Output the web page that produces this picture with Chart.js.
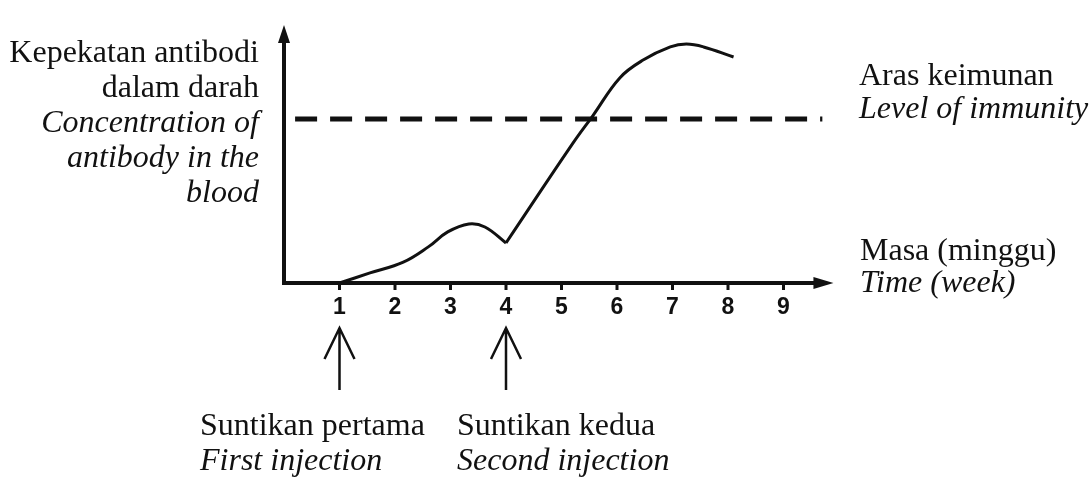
<!DOCTYPE html>
<html>
<head>
<meta charset="utf-8">
<script src="https://cdn.jsdelivr.net/npm/chart.js@4.4.1/dist/chart.umd.min.js"></script>
<style>
  body { margin: 0; background: #fff; }
  #wrap { position: relative; width: 1091px; height: 479px; }
  .lbl { position: absolute; font-family: "Liberation Serif", "Times New Roman", serif; font-size: 32px; color: #111; white-space: nowrap; }
  .lbl i { font-style: italic; }
</style>
</head>
<body>
<div id="wrap">
  <canvas id="antibodyChart" width="1091" height="479"></canvas>
  <div class="lbl" style="right:832px; top:34px; line-height:35px; text-align:right;">Kepekatan antibodi<br>dalam darah<br><i>Concentration of<br>antibody in the<br>blood</i></div>
  <div class="lbl" style="left:859px; top:58px; line-height:33px;">Aras keimunan<br><i>Level of immunity</i></div>
  <div class="lbl" style="left:860px; top:233px; line-height:32px;">Masa (minggu)<br><i>Time (week)</i></div>
  <div class="lbl" style="left:200px; top:407px; line-height:35px;">Suntikan pertama<br><i>First injection</i></div>
  <div class="lbl" style="left:457px; top:407px; line-height:35px;">Suntikan kedua<br><i>Second injection</i></div>
</div>
<script>
// minggu (week) vs kepekatan antibodi
const weeksFirst = [1.0, 1.55, 2.15, 2.6, 2.95, 3.33, 3.62, 4.0];
const concFirst = [0, 3.9, 8.1, 14, 19.8, 22.9, 21.7, 15.5];
const weeksSecond = [4.0, 5.2, 5.57, 6.05, 6.47, 6.96, 7.25, 7.56, 8.1];
const concSecond = [15.5, 54, 65, 79.5, 86.4, 91.5, 92.6, 91.5, 87.6];

const immunityLevel = 63.6;
const immunityFrom = 0.2;
const immunityTo = 9.7;

const xTicks = [1, 2, 3, 4, 5, 6, 7, 8, 9];
const injectionWeeks = [1, 4];

const toPoints = (xs, ys) => xs.map((x, i) => ({ x: x, y: ys[i] }));

// paksi, anak panah dan label tick
const axesPlugin = {
  id: 'axesPlugin',
  afterDatasetsDraw(chart) {
    const ctx = chart.ctx;
    const xs = chart.scales.x;
    const ys = chart.scales.y;
    const x0 = xs.getPixelForValue(0);
    const y0 = ys.getPixelForValue(0);
    const yTop = ys.getPixelForValue(100);
    const xEnd = xs.getPixelForValue(9.9);

    ctx.save();
    ctx.strokeStyle = '#111';
    ctx.fillStyle = '#111';
    ctx.lineWidth = 4;
    ctx.lineCap = 'butt';

    // y axis
    ctx.beginPath();
    ctx.moveTo(x0, y0 + 2);
    ctx.lineTo(x0, yTop + 14);
    ctx.stroke();
    ctx.beginPath();
    ctx.moveTo(x0, yTop);
    ctx.lineTo(x0 - 6, yTop + 18);
    ctx.lineTo(x0 + 6, yTop + 18);
    ctx.closePath();
    ctx.fill();

    // x axis
    ctx.beginPath();
    ctx.moveTo(x0 - 2, y0);
    ctx.lineTo(xEnd - 14, y0);
    ctx.stroke();
    ctx.beginPath();
    ctx.moveTo(xEnd, y0);
    ctx.lineTo(xEnd - 20, y0 - 6);
    ctx.lineTo(xEnd - 20, y0 + 6);
    ctx.closePath();
    ctx.fill();

    // tick marks + labels
    ctx.lineWidth = 3;
    ctx.font = 'bold 23px "Liberation Sans", Arial, sans-serif';
    ctx.textAlign = 'center';
    ctx.textBaseline = 'middle';
    xTicks.forEach(t => {
      const px = xs.getPixelForValue(t);
      ctx.beginPath();
      ctx.moveTo(px, y0);
      ctx.lineTo(px, y0 + 7);
      ctx.stroke();
      ctx.fillText(String(t), px, y0 + 25);
    });

    // anak panah suntikan
    ctx.lineWidth = 2.5;
    injectionWeeks.forEach(w => {
      const px = xs.getPixelForValue(w);
      const tip = y0 + 45;
      ctx.beginPath();
      ctx.moveTo(px, y0 + 107);
      ctx.lineTo(px, tip);
      ctx.moveTo(px - 15, tip + 31);
      ctx.lineTo(px, tip);
      ctx.lineTo(px + 15, tip + 31);
      ctx.stroke();
    });
    ctx.restore();
  }
};

const ctx = document.querySelector('#antibodyChart').getContext('2d');
const myChart = new Chart(ctx, {
  type: 'line',
  data: {
    datasets: [
      {
        data: toPoints(weeksFirst, concFirst),
        borderColor: '#111',
        borderWidth: 3,
        tension: 0.4,
        pointRadius: 0,
        fill: false
      },
      {
        data: toPoints(weeksSecond, concSecond),
        borderColor: '#111',
        borderWidth: 3,
        tension: 0.4,
        pointRadius: 0,
        fill: false
      },
      {
        data: [{ x: immunityFrom, y: immunityLevel }, { x: immunityTo, y: immunityLevel }],
        borderColor: '#111',
        borderWidth: 5,
        borderDash: [22, 13],
        pointRadius: 0,
        fill: false
      }
    ]
  },
  options: {
    responsive: false,
    animation: false,
    layout: { padding: { left: 284, right: 252, top: 25, bottom: 196 } },
    scales: {
      x: { type: 'linear', min: 0, max: 10, display: false },
      y: { min: 0, max: 100, display: false }
    },
    plugins: {
      legend: { display: false },
      tooltip: { enabled: false }
    }
  },
  plugins: [axesPlugin]
});
</script>
</body>
</html>
